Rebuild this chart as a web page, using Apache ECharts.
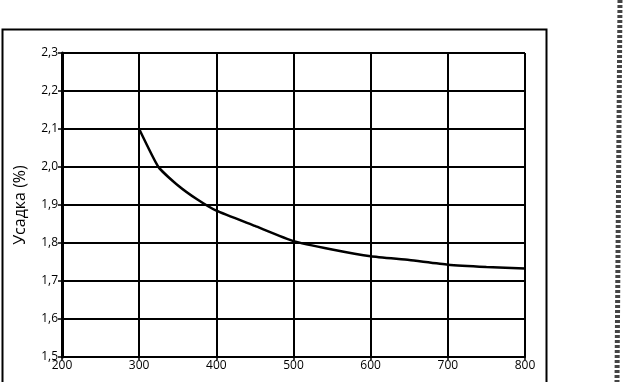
<!DOCTYPE html>
<html>
<head>
<meta charset="utf-8">
<script src="https://cdn.jsdelivr.net/npm/echarts@6/dist/echarts.min.js"></script>
<style>
  html, body { margin: 0; padding: 0; background: #fff; }
  #chart { width: 629px; height: 382px; }
</style>
</head>
<body>
<div id="chart"></div>
<script>
// temperature (x) and shrinkage % (y)
const temps = [300, 325, 350, 375, 400, 450, 500, 550, 600, 650, 700, 750, 800];
const shrink = [2.10, 2.00, 1.952, 1.915, 1.885, 1.845, 1.805, 1.783, 1.765, 1.755, 1.743, 1.737, 1.733];
const yTitle = 'Усадка (%)';

const chart = echarts.init(document.getElementById('chart'));
const font = '"Open Sans", sans-serif';

chart.setOption({
    animation: false,
    grid: { left: 62, top: 53, right: 104, bottom: 25 },
    xAxis: {
        type: 'value', min: 200, max: 800, interval: 100,
        axisLine: { show: true, lineStyle: { color: '#000', width: 2 } },
        axisTick: { show: true, length: 3, lineStyle: { color: '#000', width: 1.5 } },
        axisLabel: { color: '#000', fontFamily: font, fontSize: 12, margin: 3 },
        splitLine: { show: true, lineStyle: { color: '#000', width: 2 } }
    },
    yAxis: {
        type: 'value', min: 1.5, max: 2.3, interval: 0.1,
        name: yTitle, nameLocation: 'middle', nameGap: 34,
        nameTextStyle: { color: '#000', fontFamily: font, fontSize: 16 },
        axisLine: { show: true, lineStyle: { color: '#000', width: 3 } },
        axisTick: { show: true, length: 4, lineStyle: { color: '#000', width: 1.5 } },
        axisLabel: {
            color: '#000', fontFamily: font, fontSize: 12, margin: 4,
            formatter: v => v.toFixed(1).replace('.', ',')
        },
        splitLine: { show: true, lineStyle: { color: '#000', width: 2 } }
    },
    series: [{
        type: 'line',
        data: temps.map((t, i) => [t, shrink[i]]),
        smooth: 0.15,
        showSymbol: false,
        lineStyle: { color: '#000', width: 2.5 }
    }],
    graphic: [
        {
            type: 'rect', silent: true,
            shape: { x: 2.5, y: 29.5, width: 544, height: 400 },
            style: { fill: null, stroke: '#000', lineWidth: 2 }
        },
        {
            // scanner streak along the page edge
            type: 'line', silent: true,
            shape: { x1: 620, y1: 0, x2: 617, y2: 382 },
            style: { stroke: '#444', lineWidth: 5, lineDash: [3, 2] }
        }
    ]
});
</script>
</body>
</html>
